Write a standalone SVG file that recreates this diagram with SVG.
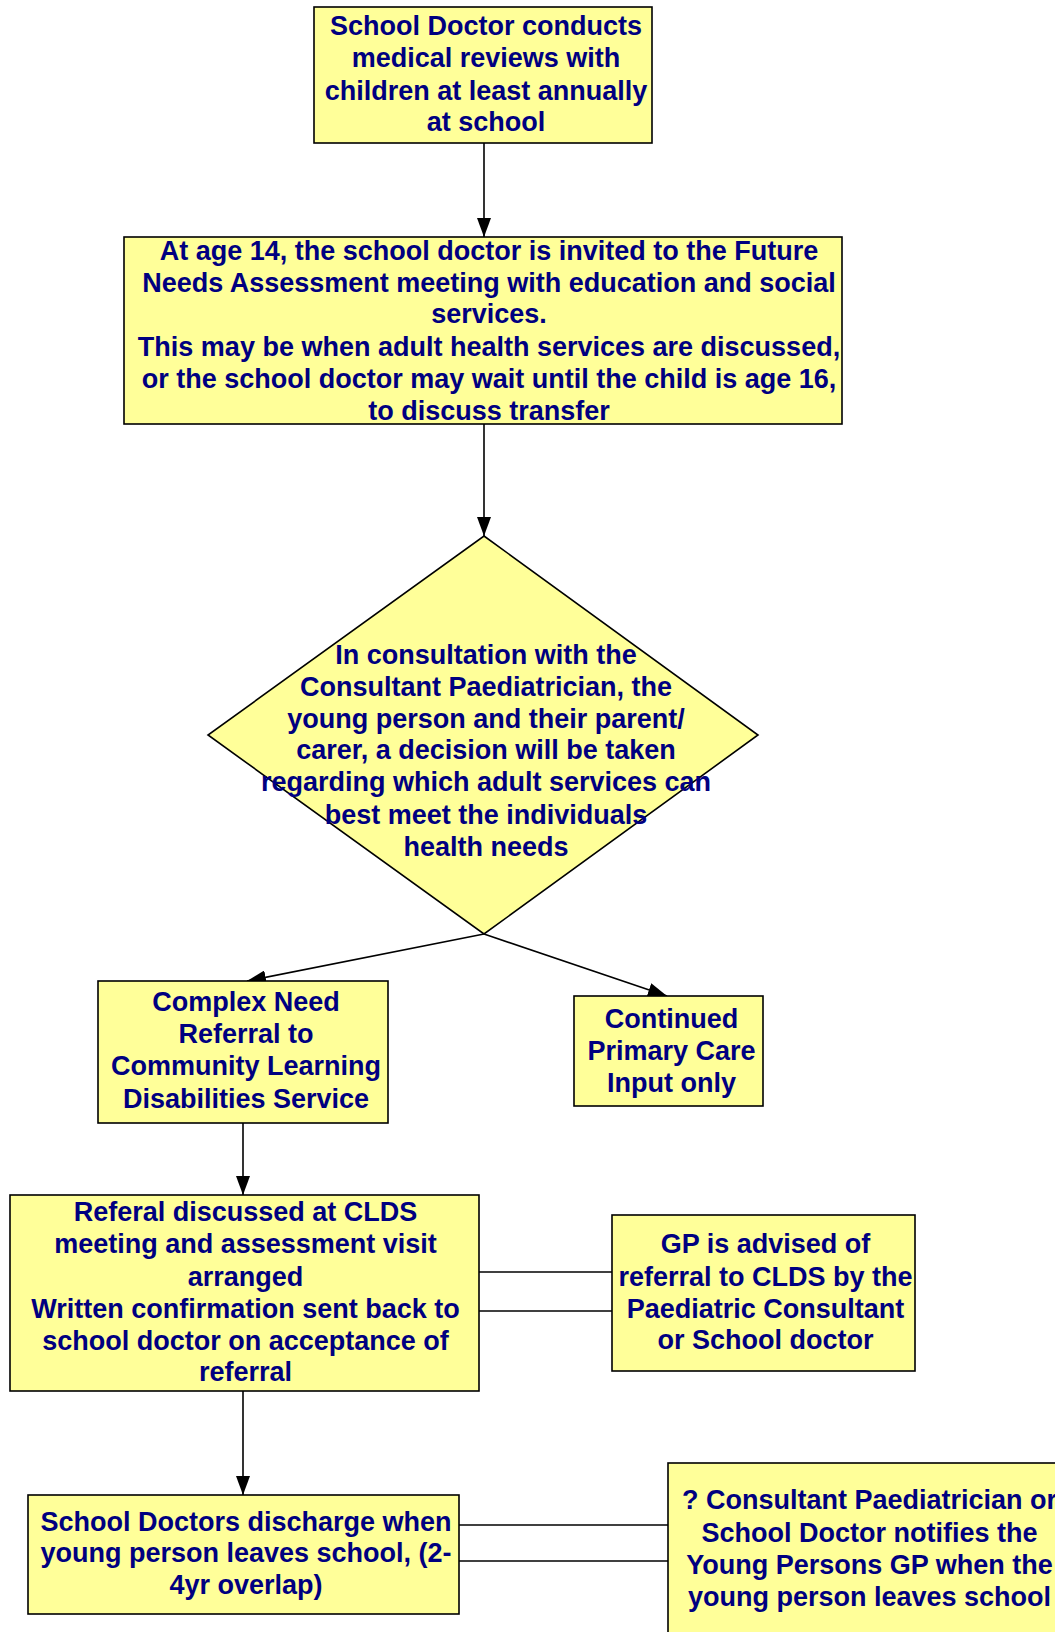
<svg xmlns="http://www.w3.org/2000/svg" width="1055" height="1632" viewBox="0 0 1055 1632">
  <style>
    .box { fill: #FFFF99; stroke: #000000; stroke-width: 1.6; }
    .lbl { font-family: "Liberation Sans", Arial, sans-serif; font-weight: bold; font-size: 27px; fill: #000080; text-anchor: middle; }
    .conn { stroke: #000000; stroke-width: 1.6; fill: none; }
    .arrow { marker-end: url(#head); }
  </style>
  <defs>
    <marker id="head" markerUnits="userSpaceOnUse" markerWidth="20" markerHeight="14" refX="19" refY="7" orient="auto">
      <path d="M0,0 L19,7 L0,14 z" fill="#000000"/>
    </marker>
  </defs>
  <rect width="1055" height="1632" fill="#FFFFFF"/>

  <g id="connectors">
    <line class="conn arrow" x1="484" y1="143" x2="484" y2="237"/>
    <line class="conn arrow" x1="484" y1="424" x2="484" y2="536"/>
    <line class="conn arrow" x1="484" y1="934" x2="247" y2="981"/>
    <line class="conn arrow" x1="484" y1="934" x2="667" y2="996"/>
    <line class="conn arrow" x1="243" y1="1123" x2="243" y2="1195"/>
    <line class="conn arrow" x1="243" y1="1391" x2="243" y2="1495"/>
    <line class="conn" x1="477" y1="1272" x2="612" y2="1272"/>
    <line class="conn" x1="477" y1="1311" x2="612" y2="1311"/>
    <line class="conn" x1="459" y1="1525" x2="669" y2="1525"/>
    <line class="conn" x1="459" y1="1561" x2="669" y2="1561"/>
  </g>

  <g id="school-doctor-reviews">
    <rect class="box" x="314" y="7" width="338" height="136"/>
    <text class="lbl" x="486" y="35">School Doctor conducts</text>
    <text class="lbl" x="486" y="67">medical reviews with</text>
    <text class="lbl" x="486" y="99.5">children at least annually</text>
    <text class="lbl" x="486" y="131">at school</text>
  </g>

  <g id="future-needs-assessment">
    <rect class="box" x="124" y="237" width="718" height="187"/>
    <text class="lbl" x="489" y="260">At age 14, the school doctor is invited to the Future</text>
    <text class="lbl" x="489" y="292">Needs Assessment meeting with education and social</text>
    <text class="lbl" x="489" y="323">services.</text>
    <text class="lbl" x="489" y="355.5">This may be when adult health services are discussed,</text>
    <text class="lbl" x="489" y="388">or the school doctor may wait until the child is age 16,</text>
    <text class="lbl" x="489" y="420">to discuss transfer</text>
  </g>

  <g id="decision">
    <polygon class="box" points="484,536 758,735 484,934 208,735"/>
    <text class="lbl" x="486" y="663.5">In consultation with the</text>
    <text class="lbl" x="486" y="696">Consultant Paediatrician, the</text>
    <text class="lbl" x="486" y="728">young person and their parent/</text>
    <text class="lbl" x="486" y="759">carer, a decision will be taken</text>
    <text class="lbl" x="486" y="791">regarding which adult services can</text>
    <text class="lbl" x="486" y="824">best meet the individuals</text>
    <text class="lbl" x="486" y="856">health needs</text>
  </g>

  <g id="complex-need">
    <rect class="box" x="98" y="981" width="290" height="142"/>
    <text class="lbl" x="246" y="1011">Complex Need</text>
    <text class="lbl" x="246" y="1043">Referral to</text>
    <text class="lbl" x="246" y="1075">Community Learning</text>
    <text class="lbl" x="246" y="1108">Disabilities Service</text>
  </g>

  <g id="primary-care">
    <rect class="box" x="574" y="996" width="189" height="110"/>
    <text class="lbl" x="671.5" y="1027.5">Continued</text>
    <text class="lbl" x="671.5" y="1060">Primary Care</text>
    <text class="lbl" x="671.5" y="1092">Input only</text>
  </g>

  <g id="clds-referral">
    <rect class="box" x="10" y="1195" width="469" height="196"/>
    <text class="lbl" x="245.5" y="1221">Referal discussed at CLDS</text>
    <text class="lbl" x="245.5" y="1253">meeting and assessment visit</text>
    <text class="lbl" x="245.5" y="1285.5">arranged</text>
    <text class="lbl" x="245.5" y="1318">Written confirmation sent back to</text>
    <text class="lbl" x="245.5" y="1350">school doctor on acceptance of</text>
    <text class="lbl" x="245.5" y="1381">referral</text>
  </g>

  <g id="gp-advised">
    <rect class="box" x="612" y="1215" width="303" height="156"/>
    <text class="lbl" x="765.5" y="1253">GP is advised of</text>
    <text class="lbl" x="765.5" y="1285.5">referral to CLDS by the</text>
    <text class="lbl" x="765.5" y="1318">Paediatric Consultant</text>
    <text class="lbl" x="765.5" y="1349">or School doctor</text>
  </g>

  <g id="school-discharge">
    <rect class="box" x="28" y="1495" width="431" height="119"/>
    <text class="lbl" x="246" y="1531">School Doctors discharge when</text>
    <text class="lbl" x="246" y="1562">young person leaves school, (2-</text>
    <text class="lbl" x="246" y="1594">4yr overlap)</text>
  </g>

  <g id="gp-notified">
    <rect class="box" x="668" y="1463" width="420" height="200"/>
    <text class="lbl" x="869.5" y="1509">? Consultant Paediatrician or</text>
    <text class="lbl" x="869.5" y="1541.5">School Doctor notifies the</text>
    <text class="lbl" x="869.5" y="1574">Young Persons GP when the</text>
    <text class="lbl" x="869.5" y="1606">young person leaves school</text>
  </g>
</svg>
